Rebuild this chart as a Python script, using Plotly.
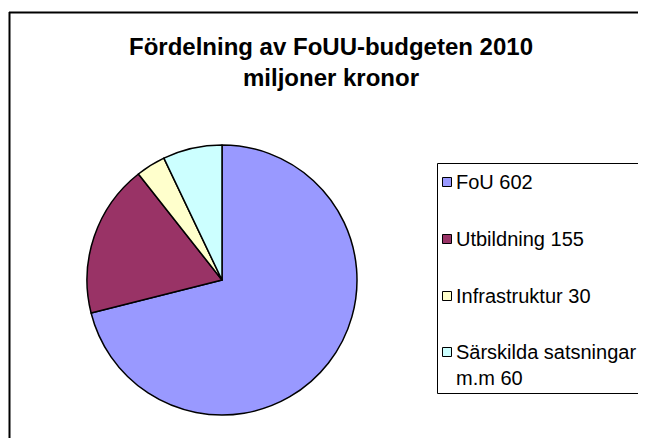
import plotly.graph_objects as go

# sidan har 8 px marginal runt figuren
OFF = 8
FW, FH = 630, 430

kategorier = ["FoU", "Utbildning", "Infrastruktur", "Särskilda satsningar m.m"]
belopp = [602, 155, 30, 60]
etiketter = ["FoU 602", "Utbildning 155", "Infrastruktur 30", "Särskilda satsningar<br>m.m 60"]
farger = ["#9999FF", "#993366", "#FFFFCC", "#CCFFFF"]

FONT = "Liberation Sans, Arial, sans-serif"


def px_x(v):
    return (v - OFF) / FW


def px_y(v):
    return 1 - (v - OFF) / FH


fig = go.Figure(go.Pie(
    labels=kategorier,
    values=belopp,
    marker=dict(colors=farger, line=dict(color="black", width=1.5)),
    sort=False,
    direction="clockwise",
    rotation=0,
    textinfo="none",
    hoverinfo="label+value",
    showlegend=False,
    domain=dict(x=[px_x(222 - 135), px_x(222 + 135)], y=[px_y(415), px_y(145)]),
))

# ram runt diagrammet (bara vänster och övre kant syns)
shapes = [
    dict(type="line", xref="paper", yref="paper", x0=px_x(9.5), x1=px_x(9.5),
         y0=px_y(12), y1=-0.05, line=dict(color="black", width=2)),
    dict(type="line", xref="paper", yref="paper", x0=px_x(9), x1=1.05,
         y0=px_y(12.5), y1=px_y(12.5), line=dict(color="black", width=2)),
    # förklaringsruta
    dict(type="rect", xref="paper", yref="paper", x0=px_x(437.5), x1=1.05,
         y0=px_y(393.5), y1=px_y(163.5), line=dict(color="black", width=1),
         fillcolor="white"),
]

annotations = []
rad_y = [182, 239, 296, 352]
for lbl, col, yc in zip(etiketter, farger, rad_y):
    shapes.append(dict(type="rect", xref="paper", yref="paper",
                       x0=px_x(442.5), x1=px_x(451.5), y0=px_y(yc + 4.5), y1=px_y(yc - 4.5),
                       fillcolor=col, line=dict(color="black", width=1)))
    annotations.append(dict(text=lbl, xref="paper", yref="paper",
                            x=px_x(454), y=px_y(yc - 13), xanchor="left", yanchor="top",
                            align="left", showarrow=False,
                            font=dict(family=FONT, size=20, color="black")))

fig.update_layout(
    width=FW, height=FH,
    margin=dict(l=0, r=0, t=0, b=0),
    paper_bgcolor="white",
    plot_bgcolor="white",
    title=dict(text="<b>Fördelning av FoUU-budgeten 2010<br>miljoner kronor</b>",
               x=px_x(331), xanchor="center", y=px_y(54.5), yanchor="middle",
               font=dict(family=FONT, size=24, color="black")),
    shapes=shapes,
    annotations=annotations,
)

fig.write_html("out.html")
